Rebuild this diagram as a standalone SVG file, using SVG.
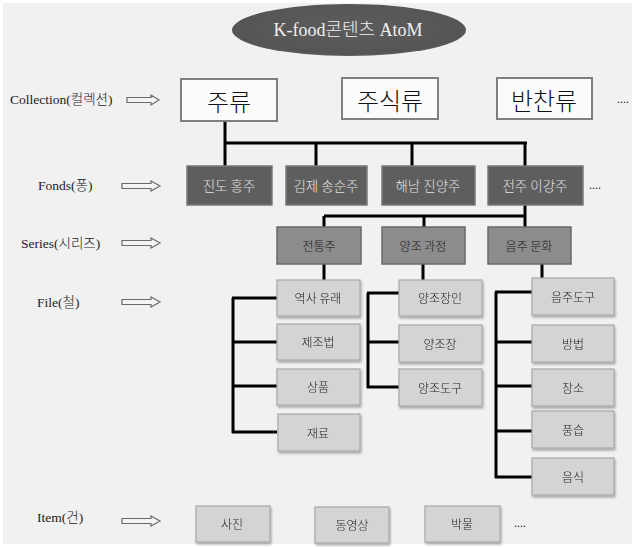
<svg xmlns="http://www.w3.org/2000/svg" width="635" height="547" viewBox="0 0 635 547">
<defs>
<style>
.lbl{font-family:"Liberation Serif","Noto Sans CJK KR",serif;font-size:13.5px;fill:#222;font-weight:300}
.k{font-family:"Noto Sans CJK KR","Noto Sans",sans-serif;text-anchor:middle;dominant-baseline:central;font-weight:300}
.col rect{fill:#fbfbfb;stroke:#7f7f7f;stroke-width:2}
.col text{font-size:24px;fill:#111}
.fond rect{fill:#5e5e5e;stroke:#7a7a7a;stroke-width:1.5}
.fond text{font-size:13.5px;fill:#e2e2e2}
.ser rect{fill:#8c8c8c;stroke:#6a6a6a;stroke-width:1.5}
.ser text{font-size:12px;fill:#1a1a1a}
.file rect{fill:#d4d4d4;stroke:#a8a8a8;stroke-width:1.2}
.file text{font-size:12px;fill:#222}
.dots{font-family:"Liberation Serif",serif;font-size:12px;fill:#222}
.arr{fill:#f4f4f4;stroke:#6a6a6a;stroke-width:1.2}
</style>
<filter id="sh" x="-10%" y="-10%" width="130%" height="140%">
<feDropShadow dx="1" dy="2" stdDeviation="1" flood-color="#000" flood-opacity="0.3"/>
</filter>
<radialGradient id="eg" cx="50%" cy="45%" r="60%">
<stop offset="0" stop-color="#5c5c5c"/>
<stop offset="0.85" stop-color="#555"/>
<stop offset="1" stop-color="#6e6e6e"/>
</radialGradient>
</defs>
<rect x="0" y="0" width="635" height="547" fill="#ffffff"/>
<rect x="3" y="3" width="629" height="541" fill="#f1f1f1"/>

<g id="title">
<ellipse cx="349" cy="30" rx="117" ry="26" fill="url(#eg)"/>
<text x="348" y="30" class="k" style="font-family:'Liberation Serif','Noto Sans CJK KR',serif;font-size:18px;fill:#f0f0f0">K-food콘텐츠 AtoM</text>
</g>

<g id="labels">
<text class="lbl" x="10" y="104">Collection(컬렉션)</text>
<path class="arr" d="M127,97.5 H151 V95 L159,100 L151,105 V102.5 H127 Z"/>
<text class="lbl" x="38" y="190">Fonds(퐁)</text>
<path class="arr" d="M122,183.5 H151 V181 L160,186 L151,191 V188.5 H122 Z"/>
<text class="lbl" x="21" y="248">Series(시리즈)</text>
<path class="arr" d="M122,240.5 H151 V238 L160,243 L151,248 V245.5 H122 Z"/>
<text class="lbl" x="37" y="307">File(철)</text>
<path class="arr" d="M122,299.5 H151 V297 L160,302 L151,307 V304.5 H122 Z"/>
<text class="lbl" x="37" y="522">Item(건)</text>
<path class="arr" d="M122,518.5 H151 V516 L160,521 L151,526 V523.5 H122 Z"/>
</g>

<g id="connectors" fill="none" stroke="#000" stroke-width="3">
<path d="M225,121 V143 M225,143 H527 M225,143 V166 M316,143 V166 M412,143 V166 M525,143 V166"/>
<path d="M525,204 V216 M324,216 H526 M324,216 V227 M424,216 V227 M525,216 V227"/>
<path d="M324,264 V280 M423,264 V280 M542,264 V279"/>
<path d="M233,298 V433 M232,298 H277 M233,342 H277 M233,386 H277 M232,432 H277"/>
<path d="M368,293 V388 M367,293 H399 M368,342 H399 M367,387 H399"/>
<path d="M496,292 V478 M495,292 H532 M496,342 H532 M496,386 H532 M496,431 H532 M495,477 H532"/>
</g>

<g id="c1" class="col"><rect x="181" y="79" width="96" height="42"/><text class="k" x="229" y="100">주류</text></g>
<g id="c2" class="col"><rect x="342" y="78" width="96" height="41"/><text class="k" x="390" y="99">주식류</text></g>
<g id="c3" class="col"><rect x="497" y="78" width="95" height="41"/><text class="k" x="544" y="99">반찬류</text></g>
<text class="dots" x="617" y="103">....</text>

<g id="f1" class="fond"><rect x="187" y="166" width="85" height="39"/><text class="k" x="229" y="185">진도 홍주</text></g>
<g id="f2" class="fond"><rect x="286" y="166" width="81" height="39"/><text class="k" x="326" y="185">김제 송순주</text></g>
<g id="f3" class="fond"><rect x="382" y="166" width="93" height="39"/><text class="k" x="428" y="185">해남 진양주</text></g>
<g id="f4" class="fond"><rect x="488" y="166" width="95" height="39"/><text class="k" x="535" y="185">전주 이강주</text></g>
<text class="dots" x="589" y="189">....</text>

<g id="s1" class="ser"><rect x="277" y="227" width="84" height="37"/><text class="k" x="319" y="245">전통주</text></g>
<g id="s2" class="ser"><rect x="382" y="227" width="83" height="37"/><text class="k" x="423" y="245">양조 과정</text></g>
<g id="s3" class="ser"><rect x="488" y="227" width="83" height="37"/><text class="k" x="529" y="245">음주 문화</text></g>

<g filter="url(#sh)">
<g id="fi1" class="file"><rect x="277" y="280" width="83" height="36"/><text class="k" x="318" y="297">역사 유래</text></g>
<g id="fi2" class="file"><rect x="277" y="324" width="83" height="36"/><text class="k" x="318" y="341">제조법</text></g>
<g id="fi3" class="file"><rect x="277" y="369" width="83" height="36"/><text class="k" x="318" y="386">상품</text></g>
<g id="fi4" class="file"><rect x="278" y="414" width="82" height="37"/><text class="k" x="318" y="432">재료</text></g>
<g id="fi5" class="file"><rect x="399" y="280" width="83" height="36"/><text class="k" x="440" y="297">양조장인</text></g>
<g id="fi6" class="file"><rect x="399" y="325" width="83" height="37"/><text class="k" x="440" y="343">양조장</text></g>
<g id="fi7" class="file"><rect x="399" y="369" width="83" height="37"/><text class="k" x="440" y="387">양조도구</text></g>
<g id="fi8" class="file"><rect x="532" y="278" width="82" height="37"/><text class="k" x="573" y="296">음주도구</text></g>
<g id="fi9" class="file"><rect x="532" y="325" width="82" height="37"/><text class="k" x="573" y="343">방법</text></g>
<g id="fi10" class="file"><rect x="532" y="369" width="82" height="37"/><text class="k" x="573" y="387">장소</text></g>
<g id="fi11" class="file"><rect x="532" y="411" width="82" height="37"/><text class="k" x="573" y="429">풍습</text></g>
<g id="fi12" class="file"><rect x="532" y="458" width="82" height="37"/><text class="k" x="573" y="476">음식</text></g>
<g id="i1" class="file"><rect x="196" y="506" width="74" height="36"/><text class="k" x="232" y="523">사진</text></g>
<g id="i2" class="file"><rect x="315" y="507" width="74" height="36"/><text class="k" x="352" y="524">동영상</text></g>
<g id="i3" class="file"><rect x="425" y="506" width="75" height="36"/><text class="k" x="462" y="523">박물</text></g>
</g>
<text class="dots" x="514" y="527">....</text>
</svg>
